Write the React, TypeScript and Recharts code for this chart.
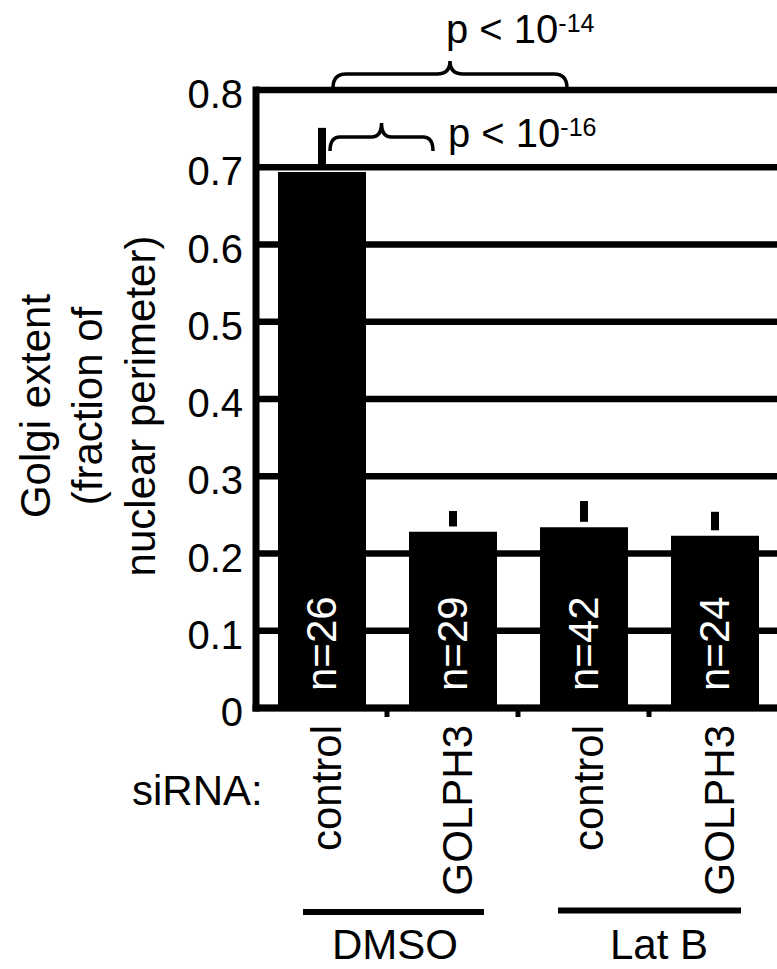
import React from 'react';
import { BarChart, Bar, XAxis, YAxis, CartesianGrid, ErrorBar, LabelList } from 'recharts';

// Golgi extent per condition
const categories = ['control', 'GOLPH3', 'control', 'GOLPH3'];
const means = [0.694, 0.228, 0.234, 0.223];
const sems = [0.057, 0.027, 0.034, 0.031];
const counts = [26, 29, 42, 24];
const groups = ['DMSO', 'Lat B'];
const yTicks = [0, 0.1, 0.2, 0.3, 0.4, 0.5, 0.6, 0.7, 0.8];
const pLabels = [
  { text: 'p < 10', exp: '-14' },
  { text: 'p < 10', exp: '-16' },
];
const yTitle = ['Golgi extent', '(fraction of', 'nuclear perimeter)'];

const FONT = '"Liberation Sans", Arial, Helvetica, sans-serif';
const W = 790;
const H = 969;
const M = { top: 90, right: 10, bottom: 0, left: 0 };
const Y_W = 256;
const X_H = 261;
const BAND = (W - M.left - M.right - Y_W) / categories.length;
const AXIS_Y = H - M.bottom - X_H;
const GAP = 0.007; // white gap between bar top and error stub

const data = categories.map((c, i) => ({
  id: i,
  label: c,
  mean: means[i],
  err: [-GAP, sems[i]],
  n: counts[i],
}));

const XTick = (props: any) => {
  const { x, payload } = props;
  const i = payload.index ?? payload.value;
  const ly = AXIS_Y + 17;
  return (
    <g>
      {i < categories.length - 1 && (
        <line x1={x + BAND / 2} x2={x + BAND / 2} y1={AXIS_Y} y2={AXIS_Y + 9} stroke="#000" strokeWidth={5} />
      )}
      <text
        x={x}
        y={ly}
        dy="0.47em"
        transform={`rotate(-90, ${x}, ${ly})`}
        textAnchor="end"
        fontSize={42}
        fontFamily={FONT}
        fill="#000"
      >
        {categories[i]}
      </text>
    </g>
  );
};

const YTick = (props: any) => {
  const { x, y, payload } = props;
  return (
    <text x={x} y={y} dy={18} textAnchor="end" fontSize={40} fontFamily={FONT} fill="#000">
      {payload.value === 0 ? '0' : payload.value.toFixed(1)}
    </text>
  );
};

const NLabel = (props: any) => {
  const { x, y, width, height, value } = props;
  const cx = x + width / 2;
  const by = y + height - 17;
  return (
    <text
      x={cx}
      y={by}
      dy="0.33em"
      transform={`rotate(-90, ${cx}, ${by})`}
      fontSize={42}
      fontFamily={FONT}
      fill="#fff"
    >
      {`n=${value}`}
    </text>
  );
};

function brace(x1: number, x2: number, yEnd: number, yMid: number, yTip: number, r: number) {
  const xc = (x1 + x2) / 2;
  return `M${x1},${yEnd} Q${x1},${yMid} ${x1 + r},${yMid} L${xc - r},${yMid} Q${xc},${yMid} ${xc},${yTip} Q${xc},${yMid} ${xc + r},${yMid} L${x2 - r},${yMid} Q${x2},${yMid} ${x2},${yEnd}`;
}

export default function App() {
  return (
    <div style={{ position: 'relative', width: 777, height: 969, overflow: 'hidden', background: '#fff' }}>
      <style>{`body{margin:0;overflow:hidden}`}</style>
      <BarChart width={W} height={H} data={data} margin={M}>
        <CartesianGrid vertical={false} stroke="#000" strokeWidth={6.5} />
        <XAxis
          dataKey="id"
          type="category"
          height={X_H}
          interval={0}
          axisLine={{ stroke: '#000', strokeWidth: 7, strokeLinecap: 'square' }}
          tickLine={false}
          tick={<XTick />}
        />
        <YAxis
          type="number"
          domain={[0, 0.8]}
          ticks={yTicks}
          width={Y_W}
          axisLine={{ stroke: '#000', strokeWidth: 7, strokeLinecap: 'square' }}
          tickLine={false}
          tickSize={6}
          tickMargin={7}
          tick={<YTick />}
        />
        <Bar dataKey="mean" fill="#000" barSize={88} isAnimationActive={false}>
          <ErrorBar dataKey="err" direction="y" width={0} strokeWidth={8} stroke="#000" isAnimationActive={false} />
          <LabelList dataKey="n" content={<NLabel />} />
        </Bar>
      </BarChart>

      <svg width={777} height={969} style={{ position: 'absolute', left: 0, top: 0, pointerEvents: 'none' }} fontFamily={FONT}>
        {yTitle.map((t, i) => {
          const bx = [50, 102, 155][i];
          return (
            <text key={i} x={bx} y={406} transform={`rotate(-90, ${bx}, 406)`} textAnchor="middle" fontSize={42} fill="#000">
              {t}
            </text>
          );
        })}

        <path d={brace(333, 567, 88, 74, 61, 13)} fill="none" stroke="#000" strokeWidth={3.5} />
        <text x={446} y={43} fontSize={40} fill="#000">
          {pLabels[0].text}
          <tspan dy={-11} fontSize={25}>{pLabels[0].exp}</tspan>
        </text>

        <path d={brace(330, 433, 151, 137, 123, 10)} fill="none" stroke="#000" strokeWidth={3.5} />
        <text x={448} y={147} fontSize={40} fill="#000">
          {pLabels[1].text}
          <tspan dy={-11} fontSize={25}>{pLabels[1].exp}</tspan>
        </text>

        <text x={132} y={805} fontSize={42} fill="#000">siRNA:</text>

        <line x1={303} x2={484} y1={912} y2={912} stroke="#000" strokeWidth={6} />
        <line x1={558} x2={741} y1={910.5} y2={910.5} stroke="#000" strokeWidth={6} />
        <text x={395} y={959} textAnchor="middle" fontSize={42} fill="#000">{groups[0]}</text>
        <text x={659} y={959} textAnchor="middle" fontSize={42} fill="#000">{groups[1]}</text>
      </svg>
    </div>
  );
}
